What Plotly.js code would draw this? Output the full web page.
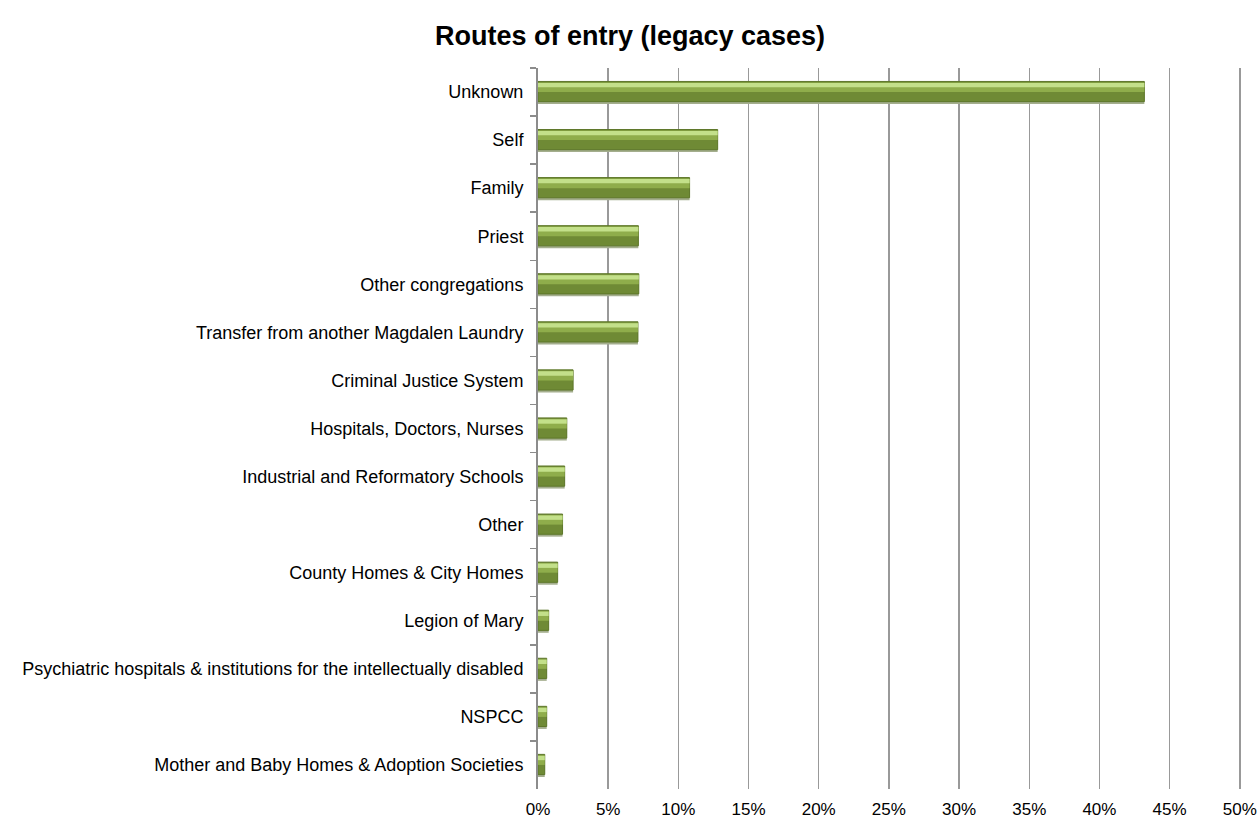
<!DOCTYPE html>
<html>
<head>
<meta charset="utf-8">
<script src="https://cdn.plot.ly/plotly-3.0.1.min.js"></script>
<style>
html,body{margin:0;padding:0;background:#fff;}
#chart{width:1260px;height:825px;}
</style>
</head>
<body>
<div id="chart"></div>
<script>
const categories = [
  "Unknown",
  "Self",
  "Family",
  "Priest",
  "Other congregations",
  "Transfer from another Magdalen Laundry",
  "Criminal Justice System",
  "Hospitals, Doctors, Nurses",
  "Industrial and Reformatory Schools",
  "Other",
  "County Homes & City Homes",
  "Legion of Mary",
  "Psychiatric hospitals & institutions for the intellectually disabled",
  "NSPCC",
  "Mother and Baby Homes & Adoption Societies"
];
const percentages = [43.2, 12.8, 10.8, 7.15, 7.18, 7.12, 2.5, 2.05, 1.9, 1.75, 1.4, 0.76, 0.62, 0.62, 0.48];
const xTickValues = [0, 5, 10, 15, 20, 25, 30, 35, 40, 45, 50];

const base = {type: 'bar', orientation: 'h', y: categories, x: percentages, hoverinfo: 'skip', showlegend: false};

const traces = [
  Object.assign({}, base, {width: 0.42, offset: -0.17, marker: {color: '#a4ae8e', line: {width: 0}}}),
  Object.assign({}, base, {width: 0.42, offset: -0.22, marker: {color: '#6f8a35', line: {color: '#5e772a', width: 1}}}),
  Object.assign({}, base, {width: 0.2, offset: -0.2, marker: {color: '#8fad4b', line: {width: 0}}}),
  Object.assign({}, base, {width: 0.09, offset: -0.19, marker: {color: '#c3e08a', line: {width: 0}}})
];

const layout = {
  width: 1260,
  height: 825,
  paper_bgcolor: '#ffffff',
  plot_bgcolor: '#ffffff',
  barmode: 'overlay',
  margin: {l: 538, r: 16, t: 68, b: 36, pad: 0},
  title: {
    text: 'Routes of entry (legacy cases)',
    font: {family: 'Liberation Sans, Arial, sans-serif', size: 27, color: '#000000', weight: 'bold'},
    x: 0.5, xanchor: 'center', y: 0.957, yanchor: 'middle'
  },
  font: {family: 'Liberation Sans, Arial, sans-serif', size: 18, color: '#000000'},
  xaxis: {
    range: [0, 50.3],
    tickvals: xTickValues,
    ticktext: xTickValues.map(v => v + '%'),
    showgrid: true,
    gridcolor: '#999999',
    gridwidth: 1.5,
    zeroline: false,
    showline: false,
    ticks: 'outside',
    ticklen: 5,
    tickcolor: 'rgba(0,0,0,0)',
    tickfont: {size: 17, color: '#000000'},
    fixedrange: true
  },
  yaxis: {
    type: 'category',
    autorange: 'reversed',
    showgrid: false,
    zeroline: false,
    showline: true,
    linecolor: '#8c8c8c',
    linewidth: 2,
    ticks: 'outside',
    tickson: 'boundaries',
    ticklen: 6,
    tickcolor: '#8c8c8c',
    tickwidth: 1.5,
    ticklabelstandoff: 9,
    tickfont: {size: 18, color: '#000000'},
    fixedrange: true
  }
};

Plotly.newPlot('chart', traces, layout, {displayModeBar: false, staticPlot: true});
</script>
</body>
</html>
